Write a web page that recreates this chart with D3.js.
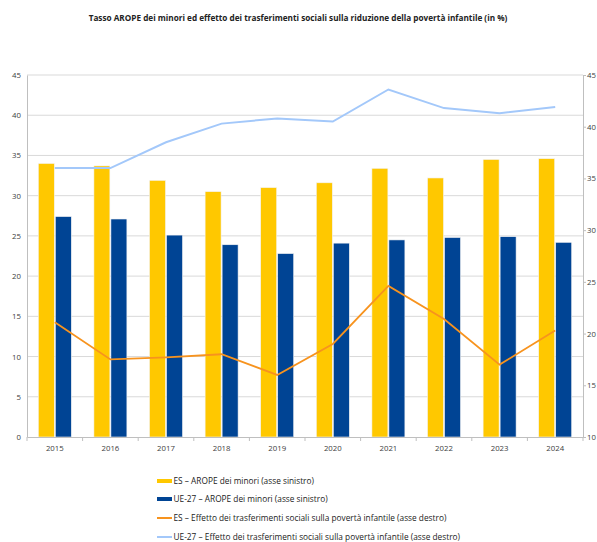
<!DOCTYPE html>
<html><head><meta charset="utf-8">
<script src="https://cdn.jsdelivr.net/npm/d3@7"></script>
<style>body{margin:0;background:#fff}svg{display:block}</style>
</head><body><svg id="c" width="597" height="542"></svg>
<script>
const years = ["2015","2016","2017","2018","2019","2020","2021","2022","2023","2024"];
const esArope = [34.0,33.7,31.9,30.5,31.0,31.6,33.4,32.2,34.5,34.6];
const ueArope = [27.4,27.1,25.1,23.9,22.8,24.1,24.5,24.8,24.9,24.2];
const esEffect = [21.1,17.5,17.7,18.0,16.0,19.0,24.6,21.4,17.0,20.3];
const ueEffect = [36.0,36.0,38.5,40.3,40.8,40.5,43.6,41.8,41.3,41.9];
const leftTicks = [0,5,10,15,20,25,30,35,40,45];
const rightTicks = [10,15,20,25,30,35,40,45];
const legendLabels = [
 "ES – AROPE dei minori (asse sinistro)",
 "UE-27 – AROPE dei minori (asse sinistro)",
 "ES – Effetto dei trasferimenti sociali sulla povertà infantile (asse destro)",
 "UE-27 – Effetto dei trasferimenti sociali sulla povertà infantile (asse destro)"
];
const title = "Tasso AROPE dei minori ed effetto dei trasferimenti sociali sulla riduzione della povertà infantile (in %)";
const colors = {es:"#FFC800", ue:"#004494", esL:"#F7931E", ueL:"#A3C8FA"};
const font = "'Open Sans', 'Liberation Sans', sans-serif";

const svg = d3.select("#c");
const L = 27, R = 583, T = 75, B = 437;
const x = d3.scaleBand().domain(years).range([L,R]);
const yL = d3.scaleLinear().domain([0,45]).range([B,T]);
const yR = d3.scaleLinear().domain([10,45]).range([B,T]);
const xin = d3.scaleBand().domain(["es","ue"]).range([11.3, x.bandwidth()-11.3]).paddingInner(0.06);

svg.append("text").attr("x",298).attr("y",21).attr("text-anchor","middle")
  .attr("font-family",font).attr("font-weight","bold").attr("font-size",8.2).attr("fill","#222").text(title);

// gridlines
svg.append("g").selectAll("line").data(leftTicks.slice(1)).join("line")
  .attr("x1",L).attr("x2",R).attr("y1",d=>yL(d)).attr("y2",d=>yL(d))
  .attr("stroke","#d9d9d9").attr("stroke-width",1);

// bars
const g = svg.append("g");
years.forEach((yr,i)=>{
  [["es",esArope[i]],["ue",ueArope[i]]].forEach(([k,v])=>{
    g.append("rect").attr("x",x(yr)+xin(k)).attr("width",xin.bandwidth())
     .attr("y",yL(v)).attr("height",B-yL(v)).attr("fill",colors[k])
     .attr("stroke","#f4f4f4").attr("stroke-width",0.6);
  });
});

// axes
const axL = svg.append("g").attr("transform",`translate(${L},0)`)
  .call(d3.axisLeft(yL).tickValues(leftTicks).tickSize(0).tickPadding(6));
const axR = svg.append("g").attr("transform",`translate(${R},0)`)
  .call(d3.axisRight(yR).tickValues(rightTicks).tickSize(3).tickPadding(1));
const axB = svg.append("g").attr("transform",`translate(0,${B})`)
  .call(d3.axisBottom(x).tickSize(0).tickPadding(8));
svg.append("g").selectAll("line").data(d3.range(years.length+1)).join("line")
  .attr("x1",i=>L+i*x.step()).attr("x2",i=>L+i*x.step()).attr("y1",B).attr("y2",B+4)
  .attr("stroke","#bfbfbf");
[axL,axR,axB].forEach(a=>{
  a.selectAll("path").attr("stroke","#bfbfbf");
  a.selectAll("line").attr("stroke","#bfbfbf");
  a.selectAll("text").attr("font-family",font).attr("font-size",7.8).attr("fill","#404040");
});

// lines
const cx = d=>x(d)+x.bandwidth()/2;
const lineR = d3.line().x(d=>cx(d[0])).y(d=>yR(d[1]));
svg.append("path").datum(years.map((y,i)=>[y,ueEffect[i]])).attr("d",lineR)
  .attr("fill","none").attr("stroke",colors.ueL).attr("stroke-width",2);
svg.append("path").datum(years.map((y,i)=>[y,esEffect[i]])).attr("d",lineR)
  .attr("fill","none").attr("stroke",colors.esL).attr("stroke-width",1.8);

// legend
const lg = svg.append("g");
const ly = [481,499,518,537];
legendLabels.forEach((t,i)=>{
  if(i<2){
    lg.append("rect").attr("x",157).attr("y",ly[i]-2).attr("width",15).attr("height",4)
      .attr("fill",i===0?colors.es:colors.ue);
  } else {
    lg.append("line").attr("x1",157).attr("x2",172).attr("y1",ly[i]).attr("y2",ly[i])
      .attr("stroke",i===2?colors.esL:colors.ueL).attr("stroke-width",2);
  }
  lg.append("text").attr("x",173.5).attr("y",ly[i]+3).attr("font-family",font)
    .attr("font-size",8.3).attr("fill","#222").text(t);
});
</script></body></html>
